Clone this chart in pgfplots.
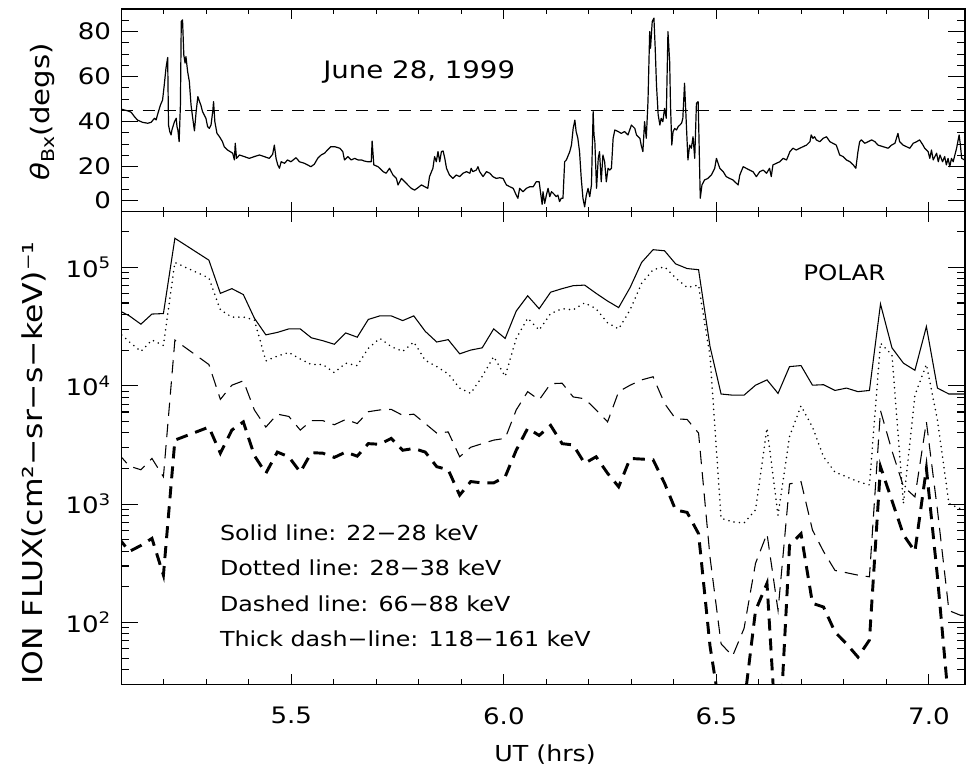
\documentclass[border=0pt]{standalone}
\usepackage{fontspec}
\setmainfont{DejaVu Sans}[FakeStretch=1.15]
\usepackage{pgfplots}
\usepackage{pgfplotstable}
\pgfplotsset{compat=1.18}

% Ion flux (cm^-2 sr^-1 s^-1 keV^-1) in four energy channels
% t: UT (hrs); s: 22-28 keV; d: 28-38 keV; m: 66-88 keV; k: 118-161 keV
\pgfplotstableread{
t      s       d       m      k
5.092  43700   28800   2690   525
5.119  38900   23400   2090   398
5.146  33100   19500   1950   447
5.172  40300   24300   2430   513
5.199  40700   21900   1700   251
5.226  176000  110000  24300  3470
5.306  115000  81300   15100  4470
5.333  60300   43700   7670   2690
5.360  66100   38000   10100  4220
5.387  58900   38000   11000  4950
5.413  37200   35900   6240   2570
5.440  26900   16200   4470   1820
5.467  28200   17800   5750   2750
5.494  30200   19100   5500   2510
5.521  30200   16800   4220   1860
5.547  25400   15100   5070   2720
5.574  24000   15100   5070   2690
5.601  22400   12900   4680   2480
5.628  27900   15500   5190   2750
5.655  25700   14800   4790   2540
5.681  36300   20700   6030   3240
5.708  38900   25100   6240   3200
5.735  38900   21400   6310   3590
5.762  35500   19500   5620   2850
5.788  38900   23400   5750   2950
5.815  28800   16400   4790   2750
5.842  23400   14500   3980   2070
5.869  24500   12600   4070   1950
5.896  18600   9550    2510   1190
5.922  20000   8610    3020   1550
5.949  20900   12000   3240   1510
5.976  30200   17600   3470   1510
6.003  25100   12000   3590   1700
6.029  42700   25100   6240   2850
6.056  57500   37200   8910   4370
6.083  44700   29500   7590   3800
6.110  61700   40700   10400  4620
6.137  66100   44700   10500  3240
6.163  70000   43700   8040   3160
6.190  70800   50100   7760   2210
6.217  60300   44700   6240   2510
6.244  51900   33900   4950   1820
6.270  45700   30200   8910   1400
6.297  67600   43700   10100  2430
6.324  110000  73300   11200  2400
6.351  141000  95500   11900  2370
6.378  138000  101000  7080   1500
6.404  107000  81300   5250   891
6.431  97700   67600   5190   851
6.458  95500   70800   3980   562
6.485  21400   17800   355    63
6.511  8510    759     66     16
6.538  8320    708     52     10
6.565  8320    692     89     20
6.592  10100   891     316    126
6.619  11200   4370    562    214
6.645  8610    804     126    6
6.672  14500   3720    1480   447
6.699  14800   6760    1550   562
6.726  10100   4470    603    145
6.752  10200   2510    398    135
6.779  9120    1860    275    83
6.806  9550    1700    263    66
6.833  8910    1550    251    51
6.860  9120    1450    243    71
6.886  49000   22900   6170   2070
6.913  20900   18200   2820   1070
6.940  15500   1010    1410   550
6.967  13500   8320    1150   398
6.994  31600   15100   4950   2000
7.020  9550    5130    891    243
7.047  8510    1010    126    20
7.074  8510    912     115    10
7.101  8510    891     115    10
}\flux

\pgfplotsset{
  panel/.style={
    scale only axis, width=632.8pt,
    xmin=5.1, xmax=7.085,
    axis line style={line width=1pt},
    every tick/.style={black, line width=0.8pt},
    tick align=inside,
    major tick length=12.5pt, minor tick length=6pt,
    x tick style={/pgfplots/major tick length=7.5pt, /pgfplots/minor tick length=3.75pt},
    xtick={5.5,6.0,6.5,7.0},
    minor xtick={5.2,5.3,5.4,5.6,5.7,5.8,5.9,6.1,6.2,6.3,6.4,6.6,6.7,6.8,6.9},
    /pgf/number format/assume math mode=true,
    tick label style={font=\fontsize{17}{19}\selectfont},
    yticklabel style={xshift=-4.2pt},
    xticklabel style={yshift=-13.8pt},
  }
}

\begin{document}
\begin{tikzpicture}
\path[use as bounding box] (-91.0pt,-420.2pt) rectangle (633.5pt,158.8pt);

% upper panel: field angle
\begin{axis}[panel, at={(0pt,0pt)}, anchor=south west, height=152pt,
  ymin=0, ymax=90,
  ytick={5,20,40,60,80}, yticklabels={0,20,40,60,80},
  minor ytick={10,15,25,30,35,45,50,55,65,70,75,85},
  xticklabels={}]
\addplot[black, line width=0.8pt, dash pattern=on 9pt off 7pt] coordinates {(5.1,45) (7.085,45)};
\addplot[black, line width=0.9pt, line join=round] coordinates {
(5.099,45.6)(5.107,45.2)(5.115,44.8)(5.123,44.2)(5.131,42.2)(5.138,40.7)(5.150,39.7)(5.162,39.3)
(5.170,39.7)(5.178,41.5)(5.182,40.8)(5.185,43.0)(5.192,47.4)(5.197,49.6)(5.201,56.3)(5.205,63.7)
(5.209,68.5)(5.211,38.5)(5.214,35.6)(5.217,34.1)(5.219,36.3)(5.225,40.0)(5.229,41.5)(5.231,37.8)
(5.233,36.3)(5.236,31.1)(5.239,47.4)(5.241,84.5)(5.244,85.2)(5.247,69.6)(5.250,66.0)(5.252,68.9)
(5.256,62.2)(5.260,57.8)(5.264,47.4)(5.268,41.5)(5.272,35.9)(5.276,44.5)(5.280,51.1)(5.284,48.9)
(5.287,47.4)(5.291,44.5)(5.295,43.0)(5.299,41.5)(5.303,37.8)(5.307,37.0)(5.311,38.5)(5.315,44.5)
(5.317,48.9)(5.320,40.0)(5.325,34.8)(5.331,33.3)(5.338,31.1)(5.342,28.9)(5.350,27.4)(5.362,26.0)
(5.366,23.0)(5.368,30.4)(5.371,23.7)(5.378,25.2)(5.389,24.5)(5.401,23.7)(5.413,24.5)(5.425,25.2)
(5.436,24.5)(5.448,23.7)(5.456,25.5)(5.460,29.6)(5.464,23.7)(5.468,20.8)(5.472,19.3)(5.476,22.2)
(5.484,21.5)(5.491,23.0)(5.499,22.2)(5.511,24.0)(5.519,22.2)(5.531,21.5)(5.538,20.8)(5.546,20.0)
(5.554,21.1)(5.562,23.7)(5.570,25.2)(5.578,26.0)(5.585,27.4)(5.593,28.9)(5.602,28.9)(5.614,28.2)
(5.621,26.7)(5.625,23.0)(5.633,24.5)(5.641,23.0)(5.649,23.7)(5.657,23.0)(5.665,23.0)(5.672,22.5)
(5.680,22.2)(5.688,22.2)(5.690,31.4)(5.694,20.8)(5.704,20.0)(5.716,17.8)(5.723,17.1)(5.731,19.3)
(5.739,16.3)(5.747,14.8)(5.751,11.9)(5.759,14.8)(5.767,13.3)(5.774,11.9)(5.782,10.4)(5.790,9.6)
(5.798,10.7)(5.806,11.9)(5.814,11.1)(5.821,10.4)(5.825,15.6)(5.833,19.3)(5.837,24.5)(5.841,22.2)
(5.845,26.7)(5.849,22.2)(5.853,26.7)(5.857,27.0)(5.861,23.7)(5.865,19.3)(5.872,16.3)(5.880,14.8)
(5.888,16.3)(5.896,15.6)(5.904,17.1)(5.912,17.8)(5.920,17.1)(5.923,19.3)(5.927,17.8)(5.935,18.5)
(5.939,20.0)(5.943,17.8)(5.951,15.6)(5.959,17.8)(5.967,17.1)(5.974,15.6)(5.982,14.8)(5.990,15.1)
(5.998,14.8)(6.006,11.9)(6.014,11.1)(6.022,10.4)(6.029,7.4)(6.033,6.0)(6.037,10.4)(6.045,8.9)
(6.053,10.4)(6.061,11.1)(6.069,11.1)(6.076,13.3)(6.083,13.3)(6.086,8.9)(6.090,3.3)(6.092,8.9)
(6.096,3.7)(6.100,7.4)(6.104,10.4)(6.108,6.7)(6.112,8.9)(6.116,8.2)(6.120,7.4)(6.123,6.7)
(6.127,7.4)(6.131,4.5)(6.135,6.0)(6.139,6.0)(6.143,22.2)(6.147,23.0)(6.155,26.7)(6.159,29.6)
(6.163,37.0)(6.167,40.7)(6.170,35.6)(6.174,32.6)(6.178,26.7)(6.182,14.8)(6.186,6.0)(6.190,2.2)
(6.194,7.4)(6.198,10.4)(6.202,6.7)(6.206,11.9)(6.210,44.5)(6.212,34.1)(6.214,31.1)(6.218,10.4)
(6.222,23.7)(6.225,26.7)(6.229,13.3)(6.233,25.2)(6.237,22.2)(6.241,13.3)(6.245,19.3)(6.249,18.5)
(6.253,19.3)(6.257,32.6)(6.261,36.3)(6.269,35.6)(6.276,34.8)(6.284,35.6)(6.292,34.1)(6.300,38.5)
(6.308,37.0)(6.312,34.1)(6.320,32.6)(6.323,29.6)(6.327,26.7)(6.331,40.0)(6.335,32.6)(6.339,48.9)
(6.343,80.0)(6.345,72.6)(6.349,84.5)(6.353,86.0)(6.356,72.6)(6.359,56.3)(6.363,43.0)(6.367,38.5)
(6.370,41.5)(6.374,40.0)(6.378,45.9)(6.382,41.5)(6.386,80.0)(6.390,66.7)(6.392,47.4)(6.395,29.6)
(6.398,35.6)(6.402,37.0)(6.406,36.3)(6.410,37.8)(6.414,38.5)(6.418,39.3)(6.421,41.5)(6.425,57.1)
(6.429,40.0)(6.433,23.0)(6.437,29.6)(6.441,28.2)(6.445,33.3)(6.449,23.7)(6.453,48.2)(6.457,48.9)
(6.459,32.6)(6.462,6.0)(6.466,11.9)(6.472,14.1)(6.480,14.8)(6.488,16.3)(6.496,19.3)(6.500,23.7)
(6.508,19.3)(6.516,17.8)(6.523,15.6)(6.531,14.8)(6.539,14.1)(6.551,11.9)(6.555,16.3)(6.563,20.0)
(6.570,19.3)(6.578,18.5)(6.586,17.8)(6.594,15.6)(6.602,17.8)(6.610,18.5)(6.618,17.1)(6.625,19.3)
(6.629,15.6)(6.633,20.8)(6.641,21.5)(6.649,22.2)(6.657,23.7)(6.665,23.0)(6.673,26.7)(6.680,28.2)
(6.688,27.4)(6.696,28.2)(6.704,28.9)(6.712,29.6)(6.720,31.1)(6.723,34.1)(6.727,32.6)(6.731,33.3)
(6.735,31.9)(6.743,31.1)(6.751,32.6)(6.759,33.3)(6.767,31.1)(6.774,30.4)(6.782,29.6)(6.790,25.2)
(6.798,24.5)(6.806,23.0)(6.814,22.2)(6.822,20.8)(6.828,19.3)(6.833,26.7)(6.837,31.1)(6.841,31.9)
(6.849,30.4)(6.857,31.1)(6.865,31.9)(6.873,31.1)(6.880,29.6)(6.892,28.9)(6.904,28.2)(6.912,29.6)
(6.920,30.4)(6.927,34.8)(6.931,31.1)(6.939,29.6)(6.947,28.9)(6.955,28.2)(6.963,30.4)(6.971,31.1)
(6.978,31.9)(6.986,29.6)(6.990,28.2)(6.998,26.7)(7.002,23.7)(7.006,27.4)(7.010,23.0)(7.018,26.0)
(7.022,22.2)(7.026,25.2)(7.032,22.2)(7.037,24.5)(7.041,20.8)(7.045,23.7)(7.049,20.0)(7.053,23.7)
(7.057,22.2)(7.061,25.2)(7.065,28.2)(7.071,34.1)(7.074,29.6)(7.077,23.7)(7.084,23.0)
};
\end{axis}

% lower panel: ion flux
\begin{axis}[panel, at={(0pt,0pt)}, anchor=north west, height=354.45pt,
  ymode=log, ymin=30, ymax=2.95e5,
  ytick={1e2,1e3,1e4,1e5},
  yticklabels={10\textsuperscript{2},10\textsuperscript{3},10\textsuperscript{4},10\textsuperscript{5}},
  minor ytick={30,40,50,60,70,80,90,200,300,400,500,600,700,800,900,
    2000,3000,4000,5000,6000,7000,8000,9000,20000,30000,40000,50000,60000,70000,80000,90000,200000},
  xticklabels={5.5,6.0,6.5,7.0}]
\addplot[black, line width=0.8pt] table[x=t, y=s]{\flux};
\addplot[black, line width=1.3pt, line cap=round, dash pattern=on 0pt off 4pt] table[x=t, y=d]{\flux};
\addplot[black, line width=0.8pt, dash pattern=on 10pt off 6pt] table[x=t, y=m]{\flux};
\addplot[black, line width=2.2pt, dash pattern=on 9pt off 6pt] table[x=t, y=k]{\flux};
\end{axis}

% annotations
\node[anchor=base west, inner sep=0pt, font=\fontsize{18}{20}\selectfont] at (151.3pt,100.3pt) {June 28, 1999};
\node[anchor=base west, inner sep=0pt, font=\fontsize{16}{18}\selectfont] at (511.3pt,-51.2pt) {POLAR};
\begin{scope}[every node/.style={anchor=base west, inner sep=0pt, font=\fontsize{15.5}{17}\selectfont}]
\node at (73.8pt,-246.2pt) {Solid line: 22−28 keV};
\node at (73.8pt,-272.5pt) {Dotted line: 28−38 keV};
\node at (73.8pt,-300.0pt) {Dashed line: 66−88 keV};
\node at (73.8pt,-326.2pt) {Thick dash−line: 118−161 keV};
\end{scope}
\node[rotate=90, inner sep=0pt, font=\fontsize{19}{21}\selectfont] at (-59.5pt,74.8pt) {\textit{θ}\textsubscript{Bx}(degs)};
\node[rotate=90, inner sep=0pt, font=\fontsize{20.5}{22}\selectfont] at (-65.5pt,-188.5pt) {ION FLUX(cm²−sr−s−keV)⁻¹};
\node[inner sep=0pt, font=\fontsize{16.5}{18}\selectfont] at (317.8pt,-407.5pt) {UT (hrs)};
\end{tikzpicture}
\end{document}
